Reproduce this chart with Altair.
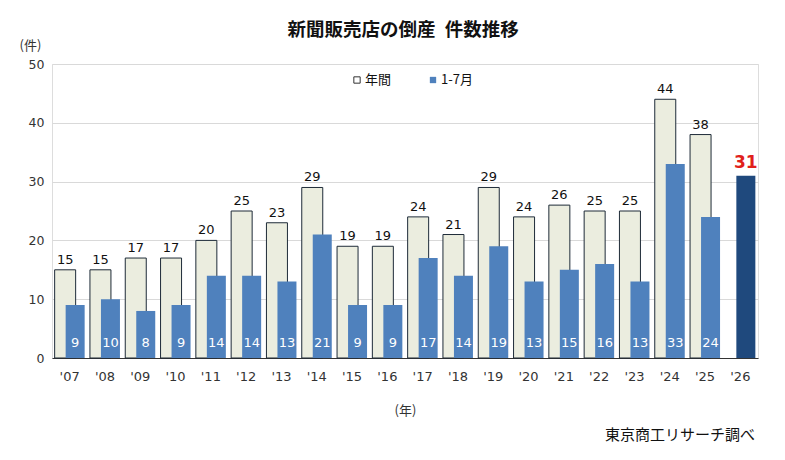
import altair as alt
import pandas as pd

years = ["'07", "'08", "'09", "'10", "'11", "'12", "'13", "'14", "'15", "'16",
         "'17", "'18", "'19", "'20", "'21", "'22", "'23", "'24", "'25", "'26"]
annual = [15, 15, 17, 17, 20, 25, 23, 29, 19, 19, 24, 21, 29, 24, 26, 25, 25, 44, 38, None]
janjul = [9, 10, 8, 9, 14, 14, 13, 21, 9, 9, 17, 14, 19, 13, 15, 16, 13, 33, 24, 31]

df = pd.DataFrame({"year": years, "annual": annual, "janjul": janjul})
df["latest"] = df["year"] == "'26"
df["zero"] = 0

JP = "Noto Sans CJK JP"
NUM = "DejaVu Sans"
CREAM = "#EBEDDF"
BORDER = "#1E2B38"
BLUE = "#4F81BD"
NAVY = "#1F497D"

x = alt.X("year:N", sort=years,
          scale=alt.Scale(paddingInner=0, paddingOuter=0),
          axis=alt.Axis(title="(年)", titleFont=JP, titleFontWeight="normal",
                        titleFontSize=13, titleColor="#333", titleY=52,
                        titleBaseline="middle", labelAngle=0, labelFont=NUM,
                        labelFontSize=13, labelColor="#333", labelPadding=12,
                        ticks=False, domainColor="#333", domainWidth=1.2,
                        grid=False))

yscale = alt.Scale(domain=[0, 50])
yaxis = alt.Axis(title="(件)", titleAngle=0, titleFont=JP, titleFontWeight="normal",
                 titleFontSize=13, titleColor="#333", titleX=-22, titleY=-19,
                 titleAlign="center", titleBaseline="middle",
                 values=[0, 10, 20, 30, 40, 50], labelFont=NUM, labelFontSize=12.5,
                 labelColor="#333", labelPadding=8, ticks=False, domain=False,
                 gridColor="#D9D9D9", gridWidth=1)

base = alt.Chart(df)

annual_bars = base.transform_filter("datum.annual != null").mark_bar(
    width=21, xOffset=-4.5, fill=CREAM, stroke=BORDER, strokeWidth=1
).encode(x=x, y=alt.Y("annual:Q", scale=yscale, axis=yaxis))

blue_bars = base.mark_bar(width=19, xOffset=5.5).encode(
    x=x, y=alt.Y("janjul:Q", scale=yscale),
    color=alt.condition("datum.latest", alt.value(NAVY), alt.value(BLUE)))

annual_labels = base.transform_filter("datum.annual != null").mark_text(
    xOffset=-4.5, dy=-10, font=NUM, fontSize=13, color="#111"
).encode(x=x, y=alt.Y("annual:Q", scale=yscale), text="annual:Q")

blue_labels = base.transform_filter("!datum.latest").mark_text(
    xOffset=5.5, dy=-15, font=NUM, fontSize=13, color="white"
).encode(x=x, y=alt.Y("zero:Q", scale=yscale), text="janjul:Q")

latest_label = base.transform_filter("datum.latest").mark_text(
    xOffset=5.5, dy=-13, font=NUM, fontSize=17, fontWeight="bold", color="#E0201B"
).encode(x=x, y=alt.Y("janjul:Q", scale=yscale), text="janjul:Q")

one = alt.Chart(alt.Data(values=[{}]))
title = one.mark_text(text="新聞販売店の倒産\u2002件数推移", font=JP, fontSize=18.5,
                      fontWeight="bold", align="center", baseline="middle",
                      color="#111").encode(x=alt.value(351), y=alt.value(-34))
leg_sq1 = one.mark_square(size=40, fill="white", stroke="#333", strokeWidth=1,
                          opacity=1).encode(x=alt.value(305), y=alt.value(16))
leg_tx1 = one.mark_text(text="年間", font=JP, fontSize=13, align="left",
                        baseline="middle", color="#111").encode(
    x=alt.value(313), y=alt.value(16))
leg_sq2 = one.mark_square(size=40, fill=BLUE, opacity=1).encode(
    x=alt.value(381), y=alt.value(16))
leg_tx2 = one.mark_text(text="1-7月", font=JP, fontSize=13, align="left",
                        baseline="middle", color="#111").encode(
    x=alt.value(389), y=alt.value(16))
source = one.mark_text(text="東京商工リサーチ調べ", font=JP, fontSize=15,
                       align="right", baseline="middle", color="#111").encode(
    x=alt.value(703), y=alt.value(371))

chart = alt.layer(
    annual_bars, blue_bars, annual_labels, blue_labels, latest_label,
    title, leg_sq1, leg_tx1, leg_sq2, leg_tx2, source
).properties(
    width=706, height=294,
    autosize=alt.AutoSizeParams(type="none"),
    padding={"left": 44, "top": 56, "right": 19, "bottom": 94}
).configure_view(stroke=None).configure(background="white")

chart.save("out.html", embed_options={"renderer": "svg", "actions": False})
